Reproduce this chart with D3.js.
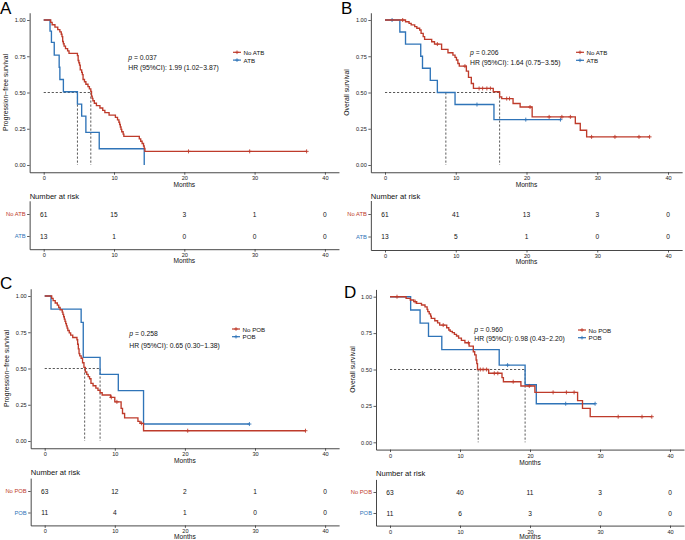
<!DOCTYPE html>
<html><head><meta charset="utf-8">
<script src="https://cdn.jsdelivr.net/npm/d3@7"></script>
<style>
body{margin:0;background:#fff}
svg{display:block}
text{font-family:"Liberation Sans",Arial,Helvetica,sans-serif}
</style>
</head><body>
<svg id="chart" width="685" height="540"></svg>
<script>
// ---------------- DATA ----------------
const monthTicks = [0, 10, 20, 30, 40];
const survTicks = [0, 0.25, 0.5, 0.75, 1];
const survTickLabels = ["0.00", "0.25", "0.50", "0.75", "1.00"];

// Panel A: PFS by ATB
const A_groups = ["No ATB", "ATB"];
const A_red_t = [0, 1.0, 1.2, 1.6, 2.0, 2.3, 2.5, 2.6, 2.7, 2.8, 2.9, 3.1, 3.4, 3.6, 4.8, 4.9, 5.0, 5.1, 5.2, 5.4, 5.5, 5.6, 5.8, 6.0, 6.3, 6.5, 6.7, 6.8, 6.9, 7.0, 7.2, 7.5, 8.0, 8.4, 8.7, 9.3, 10.2, 10.5, 10.7, 10.8, 10.9, 11.0, 11.1, 11.3, 11.4, 13.6, 13.8, 14.0, 14.2, 14.3, 14.4];
const A_red_s = [1, 0.984, 0.967, 0.951, 0.934, 0.918, 0.902, 0.885, 0.852, 0.836, 0.820, 0.803, 0.787, 0.770, 0.754, 0.721, 0.705, 0.689, 0.656, 0.639, 0.623, 0.590, 0.574, 0.557, 0.541, 0.525, 0.508, 0.475, 0.459, 0.443, 0.426, 0.410, 0.393, 0.377, 0.361, 0.344, 0.328, 0.311, 0.295, 0.279, 0.262, 0.246, 0.229, 0.213, 0.197, 0.180, 0.164, 0.148, 0.131, 0.115, 0.094];
const A_red_end = 37.4;
const A_red_cens = [20.6, 29.3, 37.4];
const A_blue_t = [0, 0.9, 1.1, 1.5, 2.2, 2.3, 2.8, 4.8, 5.4, 6.0, 7.9, 14.3];
const A_blue_s = [1, 0.923, 0.846, 0.758, 0.674, 0.590, 0.505, 0.420, 0.337, 0.225, 0.112, 0];
const A_blue_end = 14.3;
const A_blue_cens = [];
const A_medians = [6.7, 4.8];
const A_risk_red = [61, 15, 3, 1, 0];
const A_risk_blue = [13, 1, 0, 0, 0];
const A_p = "0.037";
const A_hr = "HR (95%CI): 1.99 (1.02\u22123.87)";

// Panel B: OS by ATB
const B_groups = ["No ATB", "ATB"];
const B_red_t = [0, 2.9, 3.4, 3.7, 4.2, 4.5, 4.9, 5.1, 5.4, 5.6, 6.6, 7.0, 8.0, 8.9, 9.6, 9.9, 10.1, 10.3, 10.5, 11.5, 11.8, 12.2, 12.5, 15.3, 16.2, 16.5, 18.1, 19.1, 20.8, 26.9, 27.6, 28.5];
const B_red_s = [1, 0.988, 0.977, 0.966, 0.954, 0.943, 0.931, 0.908, 0.885, 0.866, 0.850, 0.834, 0.797, 0.774, 0.758, 0.742, 0.724, 0.700, 0.682, 0.647, 0.604, 0.562, 0.528, 0.505, 0.470, 0.458, 0.424, 0.400, 0.332, 0.286, 0.240, 0.194];
const B_red_end = 37.4;
const B_red_cens = [2.5, 7.4, 11.3, 13.3, 13.8, 14.4, 14.9, 17.2, 17.6, 20.5, 23.2, 25.0, 26.2, 29.2, 32.5, 35.9, 37.4];
const B_blue_t = [0, 2.1, 2.9, 5.05, 5.3, 6.4, 7.4, 9.9, 15.4];
const B_blue_s = [1, 0.917, 0.834, 0.750, 0.667, 0.584, 0.500, 0.417, 0.313];
const B_blue_end = 24.8;
const B_blue_cens = [1.0, 13.0, 19.9, 24.8];
const B_medians = [16.2, 8.6];
const B_risk_red = [61, 41, 13, 3, 0];
const B_risk_blue = [13, 5, 1, 0, 0];
const B_p = "0.206";
const B_hr = "HR (95%CI): 1.64 (0.75\u22123.55)";

// Panel C: PFS by POB
const C_groups = ["No POB", "POB"];
const C_red_t = [0, 1.0, 1.2, 1.5, 1.8, 2.0, 2.2, 2.5, 2.6, 2.7, 2.8, 2.9, 3.0, 3.1, 3.2, 3.3, 3.5, 3.7, 4.0, 4.6, 4.7, 4.8, 4.9, 5.0, 5.2, 5.4, 5.6, 5.8, 6.0, 6.2, 6.4, 6.6, 6.9, 7.3, 7.6, 7.9, 8.2, 9.4, 10.0, 10.9, 11.1, 11.4, 13.3, 13.6, 14.1];
const C_red_s = [1, 0.984, 0.968, 0.952, 0.937, 0.921, 0.905, 0.889, 0.873, 0.857, 0.841, 0.825, 0.810, 0.794, 0.778, 0.762, 0.746, 0.730, 0.714, 0.698, 0.667, 0.635, 0.603, 0.587, 0.571, 0.540, 0.508, 0.476, 0.460, 0.444, 0.429, 0.397, 0.381, 0.365, 0.349, 0.333, 0.317, 0.301, 0.270, 0.225, 0.190, 0.160, 0.135, 0.122, 0.071];
const C_red_end = 37.2;
const C_red_cens = [9.5, 10.3, 13.8, 20.4, 37.2];
const C_blue_t = [0, 0.9, 5.2, 5.5, 7.9, 10.5, 14.1];
const C_blue_s = [1, 0.909, 0.818, 0.577, 0.460, 0.347, 0.117];
const C_blue_end = 29.2;
const C_blue_cens = [29.2];
const C_medians = [5.7, 7.9];
const C_risk_red = [63, 12, 2, 1, 0];
const C_risk_blue = [11, 4, 1, 0, 0];
const C_p = "0.258";
const C_hr = "HR (95%CI): 0.65 (0.30\u22121.38)";

// Panel D: OS by POB
const D_groups = ["No POB", "POB"];
const D_red_t = [0, 2.3, 2.9, 3.4, 3.8, 4.5, 5.0, 5.3, 5.4, 5.6, 5.8, 5.9, 6.4, 6.8, 7.1, 8.1, 8.4, 8.6, 8.9, 9.2, 9.5, 9.8, 10.2, 10.7, 11.3, 11.9, 12.1, 12.3, 12.4, 12.5, 14.1, 16.0, 16.2, 18.7, 20.7, 26.8, 27.5, 28.6];
const D_red_s = [1, 0.988, 0.977, 0.966, 0.954, 0.943, 0.930, 0.913, 0.897, 0.882, 0.867, 0.851, 0.835, 0.820, 0.805, 0.787, 0.771, 0.762, 0.753, 0.741, 0.730, 0.715, 0.700, 0.684, 0.661, 0.622, 0.600, 0.565, 0.540, 0.500, 0.474, 0.444, 0.416, 0.387, 0.343, 0.286, 0.233, 0.176];
const D_red_end = 37.4;
const D_red_cens = [1.0, 3.6, 7.6, 11.2, 12.9, 13.3, 13.8, 14.9, 15.4, 17.6, 19.9, 23.3, 25.2, 26.3, 32.6, 36.0, 37.4];
const D_blue_t = [0, 2.95, 4.3, 5.5, 7.4, 15.6, 19.3, 20.9];
const D_blue_s = [1, 0.909, 0.818, 0.727, 0.636, 0.530, 0.395, 0.265];
const D_blue_end = 29.3;
const D_blue_cens = [16.8, 25.1, 29.3];
const D_medians = [12.6, 19.3];
const D_risk_red = [63, 40, 11, 3, 0];
const D_risk_blue = [11, 6, 3, 0, 0];
const D_p = "0.960";
const D_hr = "HR (95%CI): 0.98 (0.43\u22122.20)";

// ---------------- STYLE / LAYOUT ----------------
const RED = "#BE3B2B";
const BLUE = "#2F74B8";
const AXC = "#333";
const FONT = "'Liberation Sans', Arial, Helvetica, sans-serif";

const panels = [
  { letter: "A", lx: 0, ly: 14, ytitle: "Progression\u2212free survival",
    x0: 43.7, ppm: 7.03, y1: 20, y0: 165, r1: 214, r2: 236,
    pText: [128.3, 56.7], hrText: [128.3, 67.3], leg: [233, 52.3, 7.8],
    groups: A_groups,
    red: { t: A_red_t, s: A_red_s, end: A_red_end, cens: A_red_cens },
    blue: { t: A_blue_t, s: A_blue_s, end: A_blue_end, cens: A_blue_cens },
    medians: A_medians, riskRed: A_risk_red, riskBlue: A_risk_blue, p: A_p, hr: A_hr },
  { letter: "B", lx: 341, ly: 14, ytitle: "Overall survival",
    x0: 385, ppm: 7.075, y1: 20, y0: 165, r1: 214, r2: 236.5,
    pText: [470, 52.3], hrText: [470, 62.3], leg: [576, 52.3, 8],
    groups: B_groups,
    red: { t: B_red_t, s: B_red_s, end: B_red_end, cens: B_red_cens },
    blue: { t: B_blue_t, s: B_blue_s, end: B_blue_end, cens: B_blue_cens },
    medians: B_medians, riskRed: B_risk_red, riskBlue: B_risk_blue, p: B_p, hr: B_hr },
  { letter: "C", lx: 0, ly: 289, ytitle: "Progression\u2212free survival",
    x0: 44.7, ppm: 7.01, y1: 296, y0: 441, r1: 491, r2: 512.5,
    pText: [129.3, 332.7], hrText: [129.3, 345.7], leg: [232, 329, 7.7],
    groups: C_groups,
    red: { t: C_red_t, s: C_red_s, end: C_red_end, cens: C_red_cens },
    blue: { t: C_blue_t, s: C_blue_s, end: C_blue_end, cens: C_blue_cens },
    medians: C_medians, riskRed: C_risk_red, riskBlue: C_risk_blue, p: C_p, hr: C_hr },
  { letter: "D", lx: 344, ly: 298, ytitle: "Overall survival",
    x0: 390, ppm: 7.0, y1: 296.7, y0: 442.3, r1: 492, r2: 513,
    pText: [474.3, 329.3], hrText: [474.3, 338.3], leg: [578, 330, 7.7],
    groups: D_groups,
    red: { t: D_red_t, s: D_red_s, end: D_red_end, cens: D_red_cens },
    blue: { t: D_blue_t, s: D_blue_s, end: D_blue_end, cens: D_blue_cens },
    medians: D_medians, riskRed: D_risk_red, riskBlue: D_risk_blue, p: D_p, hr: D_hr }
];

const svg = d3.select("#chart");

function stepValue(t, s, time) {
  let v = s[0];
  for (let i = 0; i < t.length; i++) { if (t[i] <= time) v = s[i]; }
  return v;
}

function styleAxis(g, fs) {
  g.select(".domain").attr("stroke", AXC).attr("stroke-width", 0.9);
  g.selectAll(".tick line").attr("stroke", AXC).attr("stroke-width", 0.8);
  g.selectAll(".tick text").attr("fill", "#222").attr("font-size", fs).attr("font-family", FONT);
}

function crossPath(cx, cy, r) {
  return `M${cx - r},${cy}H${cx + r}M${cx},${cy - r}V${cy + r}`;
}

panels.forEach(P => {
  const g = svg.append("g");
  const x = d3.scaleLinear().domain([-2, 42]).range([P.x0 - 2 * P.ppm, P.x0 + 42 * P.ppm]);
  const h = P.y0 - P.y1;
  const y = d3.scaleLinear().domain([-0.05, 1.05]).range([P.y0 + 0.05 * h, P.y1 - 0.05 * h]);
  const axisX = x(-2), axisY = y(-0.05);

  // panel letter
  g.append("text").attr("x", P.lx).attr("y", P.ly).attr("font-size", 17)
    .attr("fill", "#000").text(P.letter);

  // axes
  const ax = g.append("g").attr("transform", `translate(0,${axisY})`)
    .call(d3.axisBottom(x).tickValues(monthTicks).tickSizeInner(2.5).tickSizeOuter(0).tickPadding(1.5));
  styleAxis(ax, 5.6);
  const ay = g.append("g").attr("transform", `translate(${axisX},0)`)
    .call(d3.axisLeft(y).tickValues(survTicks).tickFormat((d, i) => survTickLabels[i])
      .tickSizeInner(2.5).tickSizeOuter(0).tickPadding(1.5));
  styleAxis(ay, 5.6);

  // axis titles
  g.append("text").attr("x", (axisX + x(42)) / 2).attr("y", axisY + 12.5)
    .attr("text-anchor", "middle").attr("dominant-baseline", "central")
    .attr("font-size", 6.6).attr("fill", "#111").text("Months");
  g.append("text").attr("transform", `translate(${axisX - 24},${y(0.5)}) rotate(-90)`)
    .attr("text-anchor", "middle").attr("dominant-baseline", "central")
    .attr("font-size", 6.8).attr("fill", "#111").text(P.ytitle);

  // median dashed lines
  const mmax = d3.max(P.medians);
  g.append("line").attr("x1", x(0)).attr("x2", x(mmax)).attr("y1", y(0.5)).attr("y2", y(0.5))
    .attr("stroke", "#222").attr("stroke-width", 0.75).attr("stroke-dasharray", "2.2,1.8");
  P.medians.forEach(m => {
    g.append("line").attr("x1", x(m)).attr("x2", x(m)).attr("y1", y(0.5)).attr("y2", y(0))
      .attr("stroke", "#222").attr("stroke-width", 0.75).attr("stroke-dasharray", "2.2,1.8");
  });

  // curves
  const line = d3.line().x(d => x(d[0])).y(d => y(d[1])).curve(d3.curveStepAfter);
  [[P.blue, BLUE], [P.red, RED]].forEach(([S, col]) => {
    const pts = S.t.map((t, i) => [t, S.s[i]]);
    pts.push([S.end, S.s[S.s.length - 1]]);
    g.append("path").attr("d", line(pts)).attr("fill", "none")
      .attr("stroke", col).attr("stroke-width", 1.35).attr("stroke-linejoin", "miter");
    S.cens.forEach(c => {
      const v = stepValue(S.t, S.s, c);
      g.append("path").attr("d", crossPath(x(c), y(v), 2)).attr("stroke", col)
        .attr("stroke-width", 0.9).attr("fill", "none");
    });
  });

  // p and HR text
  const pt = g.append("text").attr("x", P.pText[0]).attr("y", P.pText[1])
    .attr("dominant-baseline", "central").attr("font-size", 6.8).attr("fill", "#111");
  pt.append("tspan").attr("font-style", "italic").text("p");
  pt.append("tspan").text(" = " + P.p);
  g.append("text").attr("x", P.hrText[0]).attr("y", P.hrText[1])
    .attr("dominant-baseline", "central").attr("font-size", 6.8).attr("fill", "#111").text(P.hr);

  // legend
  const [lx, ly, dy] = P.leg;
  [[P.groups[0], RED], [P.groups[1], BLUE]].forEach(([name, col], i) => {
    const yy = ly + i * dy;
    g.append("line").attr("x1", lx).attr("x2", lx + 8).attr("y1", yy).attr("y2", yy)
      .attr("stroke", col).attr("stroke-width", 1.2);
    g.append("path").attr("d", crossPath(lx + 4, yy, 1.8)).attr("stroke", col).attr("stroke-width", 0.9);
    g.append("text").attr("x", lx + 10.5).attr("y", yy).attr("dominant-baseline", "central")
      .attr("font-size", 6.2).attr("fill", "#111").text(name);
  });

  // risk table
  const d = P.r2 - P.r1;
  const yr = d3.scaleLinear().domain([-0.6, 1.6]).range([P.r1 - 0.6 * d, P.r2 + 0.6 * d]);
  const rAxisY = yr(1.6);
  g.append("text").attr("x", axisX).attr("y", axisY + 24).attr("dominant-baseline", "central")
    .attr("font-size", 7.6).attr("fill", "#111").text("Number at risk");
  const rax = g.append("g").attr("transform", `translate(0,${rAxisY})`)
    .call(d3.axisBottom(x).tickValues(monthTicks).tickSizeInner(2.5).tickSizeOuter(0).tickPadding(1.5));
  styleAxis(rax, 5.6);
  const ray = g.append("g").attr("transform", `translate(${axisX},0)`)
    .call(d3.axisLeft(yr).tickValues([0, 1]).tickFormat(i => P.groups[i])
      .tickSizeInner(2.5).tickSizeOuter(0).tickPadding(1.5));
  styleAxis(ray, 5.8);
  ray.selectAll(".tick text").attr("fill", (dd) => dd === 0 ? RED : BLUE);
  g.append("text").attr("x", (axisX + x(42)) / 2).attr("y", rAxisY + 11)
    .attr("text-anchor", "middle").attr("dominant-baseline", "central")
    .attr("font-size", 6.6).attr("fill", "#111").text("Months");
  [[P.riskRed, 0], [P.riskBlue, 1]].forEach(([arr, row]) => {
    arr.forEach((n, i) => {
      g.append("text").attr("x", x(monthTicks[i])).attr("y", yr(row))
        .attr("text-anchor", "middle").attr("dominant-baseline", "central")
        .attr("font-size", 6.6).attr("fill", "#111").text(n);
    });
  });
});
</script>
</body></html>
